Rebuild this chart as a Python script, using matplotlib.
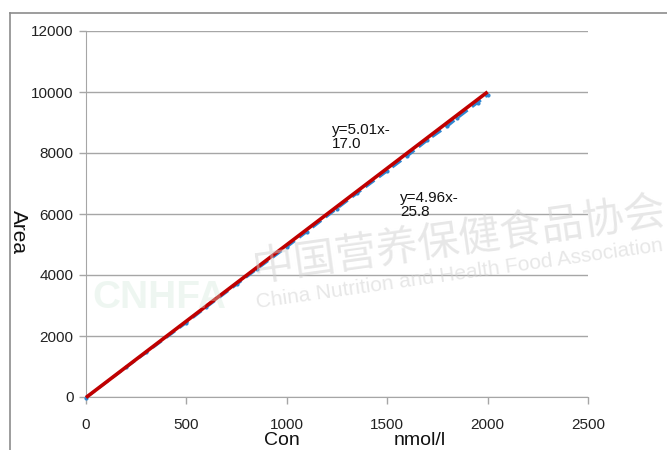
import matplotlib
matplotlib.use("Agg")
import matplotlib.pyplot as plt
from matplotlib.lines import Line2D

plt.rcParams['font.family'] = ['Liberation Sans', 'DejaVu Sans']

# Measured standard series (concentration in nmol/l vs peak area)
conc = [0, 200, 300, 500, 600, 750, 850, 1000, 1100, 1250, 1350, 1500,
        1600, 1700, 1800, 1850, 1950, 2000]
area = [-20, 975, 1460, 2440, 2950, 3690, 4190, 4920, 5420, 6180, 6680,
        7410, 7900, 8420, 8880, 9150, 9650, 9900]

# Fitted calibration line
fit_slope = 5.01
fit_intercept = -17.0
fit_x = [0, 2000]

x_ticks = [0, 500, 1000, 1500, 2000, 2500]
y_ticks = [0, 2000, 4000, 6000, 8000, 10000, 12000]

W, H = 667, 450
fig = plt.figure(figsize=(W / 100, H / 100), dpi=100)

# outer chart frame (top and left edges visible)
fig.add_artist(Line2D([10 / W, 10 / W], [0, 1 - 13 / H], color='#8c8c8c', lw=1.2))
fig.add_artist(Line2D([10 / W, 1], [1 - 13 / H, 1 - 13 / H], color='#8c8c8c', lw=1.2))

ax = fig.add_axes([86 / W, 53 / H, (588 - 86) / W, (397 - 31) / H])
ax.set_xlim(0, 2500)
ax.set_ylim(0, 12000)
ax.set_xticks(x_ticks)
ax.set_yticks(y_ticks)
ax.set_xticklabels([str(t) for t in x_ticks])
ax.set_yticklabels([str(t) for t in y_ticks])

for s in ['top', 'right']:
    ax.spines[s].set_visible(False)
ax.spines['left'].set_color('#a6a6a6')
ax.spines['bottom'].set_color('#a6a6a6')
ax.tick_params(axis='both', colors='#a6a6a6', labelcolor='#222222',
               labelsize=11, length=5, width=1)
ax.tick_params(axis='x', pad=10)
ax.tick_params(axis='y', pad=4)
ax.grid(axis='y', color='#a6a6a6', lw=1)
ax.set_axisbelow(True)

# measured points
ax.plot(conc, area, color='#2e86d0', lw=2, ls=(0, (4, 2)), marker='o',
        markersize=2, zorder=3, clip_on=False)

# fitted line
fit_y = [fit_slope * x + fit_intercept for x in fit_x]
ax.plot(fit_x, fit_y, color='#c00000', lw=2.6, zorder=4, solid_capstyle='butt',
        clip_on=False)

ax.text(1225, 8990, 'y=%.2fx-\n%.1f' % (fit_slope, -fit_intercept),
        fontsize=11, color='#111111', va='top', ha='left', linespacing=1.05)
ax.text(1565, 6760, 'y=4.96x-\n25.8', fontsize=11, color='#111111',
        va='top', ha='left', linespacing=1.05)

# axis titles
fig.text(18 / W, 1 - 232 / H, 'Area', rotation=-90, fontsize=15,
         ha='center', va='center', color='#111111')
fig.text(282 / W, 1 - 449 / H, 'Con', fontsize=14, ha='center', va='bottom',
         color='#111111')
fig.text(420 / W, 1 - 449 / H, 'nmol/l', fontsize=14, ha='center', va='bottom',
         color='#111111')

# faint association watermark
fig.text(250 / W, 1 - 290 / H, '中国营养保健食品协会', fontsize=30,
         family=['Noto Sans CJK SC', 'DejaVu Sans'], color='#d0d0d0', alpha=0.5,
         rotation=8, ha='left', va='bottom', zorder=10)
fig.text(255 / W, 1 - 312 / H, 'China Nutrition and Health Food Association',
         fontsize=15, color='#d0d0d0', alpha=0.5, rotation=8, ha='left',
         va='bottom', zorder=10)
fig.text(92 / W, 1 - 316 / H, 'CNHFA', fontsize=28, weight='bold',
         color='#cfe8d8', alpha=0.35, ha='left', va='bottom', zorder=10)

fig.savefig('out.png', dpi=100)
